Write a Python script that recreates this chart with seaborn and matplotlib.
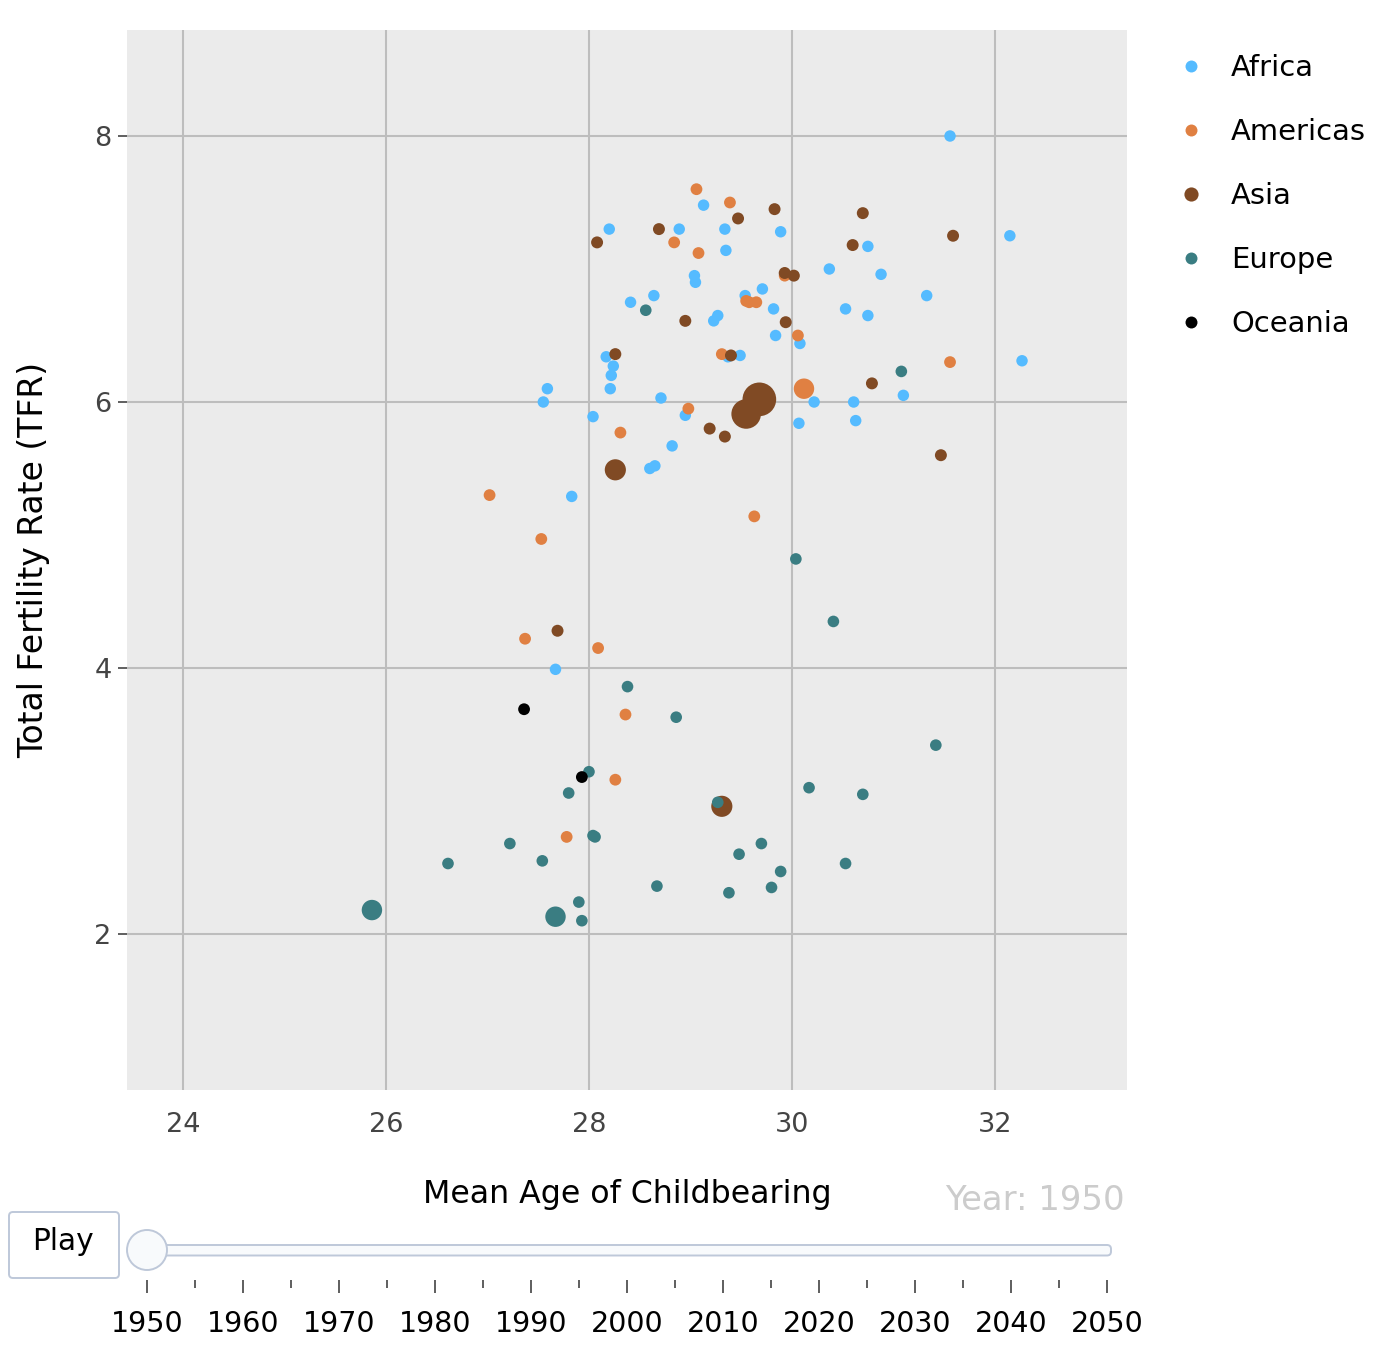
import matplotlib
matplotlib.use("Agg")
import matplotlib.pyplot as plt
from matplotlib.lines import Line2D
from matplotlib.patches import FancyBboxPatch, Circle
import pandas as pd
import seaborn as sns

continents = ["Africa", "Americas", "Asia", "Europe", "Oceania"]
palette_colors = ["#55BBFF", "#E08042", "#804A24", "#3A7D82", "#000000"]

africa_age = [31.56, 32.15, 28.20, 28.89, 29.13, 29.34, 29.35, 29.89, 30.75, 30.37, 30.88, 29.04, 29.05, 29.71,
              29.54, 28.64, 28.41, 31.33, 29.82, 30.53, 30.75, 29.27, 29.23, 29.84, 30.08, 32.27, 28.17, 29.49,
              29.37, 28.24, 28.22, 28.21, 27.59, 27.55, 28.71, 30.22, 30.61, 31.10, 28.04, 28.95, 30.07, 30.63,
              28.82, 28.65, 28.60, 27.83, 27.67]
africa_tfr = [8.00, 7.25, 7.30, 7.30, 7.48, 7.30, 7.14, 7.28, 7.17, 7.00, 6.96, 6.95, 6.90, 6.85,
              6.80, 6.80, 6.75, 6.80, 6.70, 6.70, 6.65, 6.65, 6.61, 6.50, 6.44, 6.31, 6.34, 6.35,
              6.34, 6.27, 6.20, 6.10, 6.10, 6.00, 6.03, 6.00, 6.00, 6.05, 5.89, 5.90, 5.84, 5.86,
              5.67, 5.52, 5.50, 5.29, 3.99]
africa_pop = [66] * 47

americas_age = [29.06, 29.39, 28.84, 29.08, 29.55, 29.58, 29.65, 29.93, 30.06, 29.31, 31.56, 30.12, 28.31, 28.98,
                27.02, 27.53, 29.63, 27.37, 28.09, 28.36, 28.26, 27.78]
americas_tfr = [7.60, 7.50, 7.20, 7.12, 6.76, 6.75, 6.75, 6.95, 6.50, 6.36, 6.30, 6.10, 5.77, 5.95,
                5.30, 4.97, 5.14, 4.22, 4.15, 3.65, 3.16, 2.73]
americas_pop = [70, 70, 70, 70, 70, 70, 70, 70, 70, 70, 70, 210, 70, 70, 70, 70, 70, 70, 70, 70, 70, 70]

asia_age = [29.83, 30.70, 29.47, 31.59, 28.69, 28.08, 30.60, 29.93, 30.02, 28.95, 29.94, 28.26, 29.40, 30.79,
            29.68, 29.55, 29.19, 29.34, 31.47, 28.26, 27.69, 29.31]
asia_tfr = [7.45, 7.42, 7.38, 7.25, 7.30, 7.20, 7.18, 6.97, 6.95, 6.61, 6.60, 6.36, 6.35, 6.14,
            6.02, 5.91, 5.80, 5.74, 5.60, 5.49, 4.28, 2.96]
asia_pop = [72, 72, 72, 72, 72, 72, 72, 72, 72, 72, 72, 72, 72, 72,
            570, 440, 72, 72, 72, 225, 72, 225]

europe_age = [28.56, 31.08, 30.04, 30.41, 28.38, 28.86, 31.42, 28.00, 30.17, 27.80, 30.70, 29.27, 28.04, 28.06,
              27.22, 29.70, 29.48, 26.61, 27.54, 30.53, 29.89, 28.67, 29.80, 29.38, 27.90, 27.93, 25.86, 27.67]
europe_tfr = [6.69, 6.23, 4.82, 4.35, 3.86, 3.63, 3.42, 3.22, 3.10, 3.06, 3.05, 2.99, 2.74, 2.73,
              2.68, 2.68, 2.60, 2.53, 2.55, 2.53, 2.47, 2.36, 2.35, 2.31, 2.24, 2.10, 2.18, 2.13]
europe_pop = [68, 68, 68, 68, 68, 68, 68, 68, 68, 68, 68, 68, 68, 68,
              68, 68, 68, 68, 68, 68, 68, 68, 68, 68, 68, 68, 210, 210]

oceania_age = [27.36, 27.93]
oceania_tfr = [3.69, 3.18]
oceania_pop = [70, 70]

x_label = "Mean Age of Childbearing"
y_label = "Total Fertility Rate (TFR)"
year_label = "Year: 1950"
play_label = "Play"
slider_major = list(range(1950, 2051, 10))
slider_minor = list(range(1955, 2050, 10))

frames = []
for name, a, t, p in zip(continents,
                         [africa_age, americas_age, asia_age, europe_age, oceania_age],
                         [africa_tfr, americas_tfr, asia_tfr, europe_tfr, oceania_tfr],
                         [africa_pop, americas_pop, asia_pop, europe_pop, oceania_pop]):
    frames.append(pd.DataFrame({"age": a, "tfr": t, "pop": p, "continent": name}))
df = pd.concat(frames, ignore_index=True)

W, H = 1393, 1364
sns.set_style("white")
plt.rcParams["font.family"] = ["DejaVu Sans"]
fig = plt.figure(figsize=(W / 100, H / 100), dpi=100, facecolor="white")
ax = fig.add_axes([127 / W, 1 - 1090 / H, 1000 / W, 1060 / H])
ax.set_facecolor("#EBEBEB")

sns.scatterplot(data=df, x="age", y="tfr", hue="continent", hue_order=continents,
                palette=dict(zip(continents, palette_colors)), size="pop",
                sizes=(0, 1030), size_norm=(0, 1000), linewidth=0, alpha=1,
                legend=False, ax=ax, zorder=3, clip_on=True)

ax.set_xlim(23.445, 33.305)
ax.set_ylim(0.827, 8.797)
ax.set_xticks([24, 26, 28, 30, 32])
ax.set_yticks([2, 4, 6, 8])
ax.grid(True, color="#BDBDBD", linewidth=1.5)
ax.set_axisbelow(True)
for s in ax.spines.values():
    s.set_visible(False)
ax.tick_params(axis="x", length=0, pad=16, labelsize=19.5, labelcolor="#444444")
ax.tick_params(axis="y", length=6.5, width=1.2, color="#444444", pad=4.5, labelsize=19.5,
               labelcolor="#444444", left=True)
ax.set_xlabel("")
ax.set_ylabel("")

# Slider tick axis: 1950 to 2050 sits under the rail
sl = fig.add_axes([147 / W, 1 - 1296 / H, 960 / W, 16 / H])
sl.set_xlim(1950, 2050)
sl.set_ylim(0, 1)
sl.patch.set_visible(False)
sl.set_yticks([])
for s in sl.spines.values():
    s.set_visible(False)
sl.xaxis.tick_top()
sl.set_xticks(slider_major)
sl.set_xticks(slider_minor, minor=True)
sl.tick_params(axis="x", which="major", direction="in", top=True, bottom=False, length=9.4, width=1.1,
               color="#333333", labeltop=False, labelbottom=True, pad=10, labelsize=20.5, labelcolor="black")
sl.tick_params(axis="x", which="minor", direction="in", top=True, bottom=False, length=5.8, width=1.1,
               color="#333333")

# Overlay in pixel units for the player controls, legend and axis titles
ov = fig.add_axes([0, 0, 1, 1])
ov.set_xlim(0, W)
ov.set_ylim(H, 0)
ov.axis("off")
ov.patch.set_visible(False)
edge = "#BEC8D9"
ov.add_patch(FancyBboxPatch((9, 1212), 110, 66, boxstyle="round,pad=0,rounding_size=4",
                            fc="white", ec=edge, lw=1.4))
ov.text(63, 1241, play_label, ha="center", va="center", fontsize=21.3, color="black")
ov.add_patch(FancyBboxPatch((147, 1245), 964, 10.5, boxstyle="round,pad=0,rounding_size=4",
                            fc="#F8FAFC", ec=edge, lw=1.4))
ov.add_patch(Circle((147, 1250), 20, fc="#F8FAFC", ec=edge, lw=1.4, zorder=5))
ov.text(627, 1195, x_label, ha="center", va="center", fontsize=22.75, color="black")
ov.text(34, 560, y_label, ha="center", va="center", rotation=90, fontsize=23.8, color="black")
ov.text(1125, 1201, year_label, ha="right", va="center", fontsize=24.4, color="#CCCCCC")

legend_sizes = [8.6, 8.6, 10.2, 8.6, 8.6]
for i, (name, col) in enumerate(zip(continents, palette_colors)):
    y = 66 + 64 * i
    ov.add_line(Line2D([1190.5], [y], marker="o", ms=legend_sizes[i], mfc=col, mec=col, mew=0, ls=""))
    ov.text(1231, y + 1.5, name, ha="left", va="center", fontsize=20.9, color="black")

fig.savefig("out.png", dpi=100)
